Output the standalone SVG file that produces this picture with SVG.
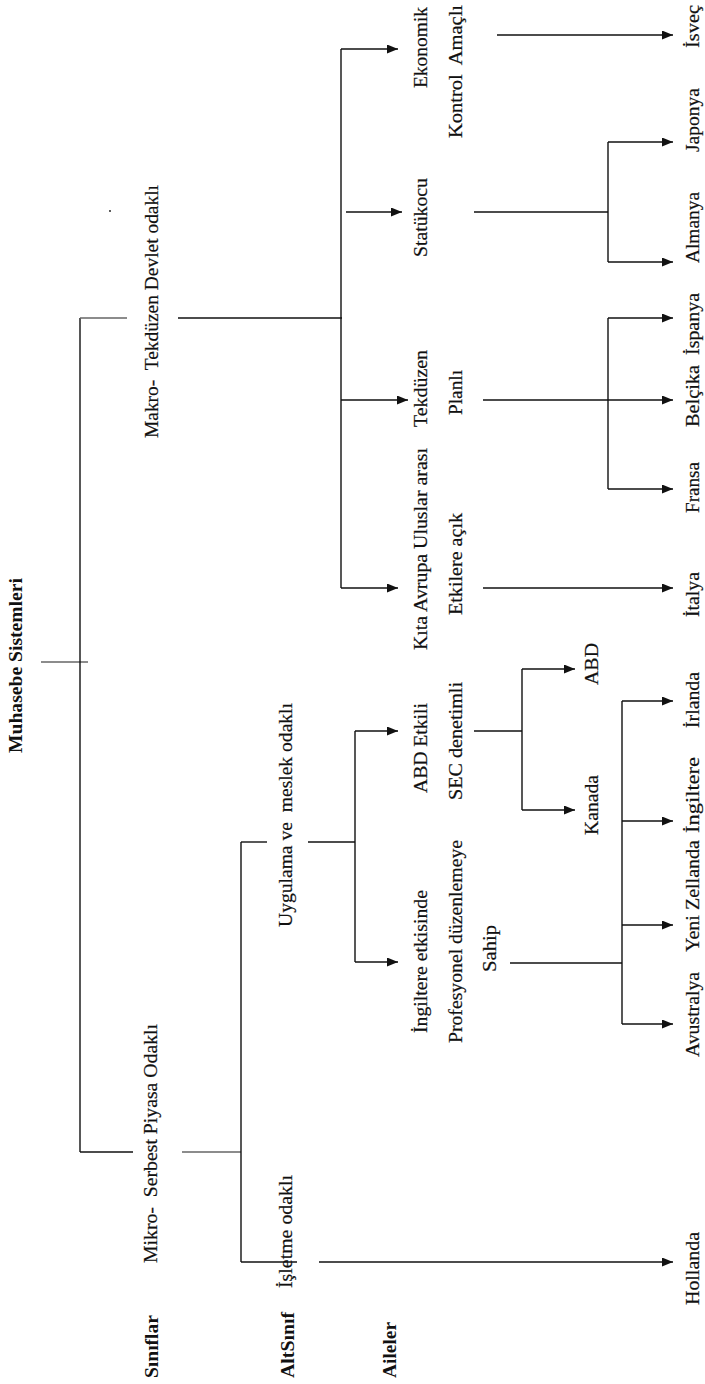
<svg xmlns="http://www.w3.org/2000/svg" width="705" height="1384" viewBox="0 0 705 1384">
<defs>
<style>
.t{font-family:"Liberation Serif","Times New Roman",serif;font-size:18px;fill:#111;stroke:#111;stroke-width:0.2}
.b{font-weight:bold;stroke-width:0}
.c{font-size:19px}
.l{stroke:#111;stroke-width:1.4;fill:none}
.g{stroke:#666;stroke-width:1.4;fill:none}
.a{stroke:#111;stroke-width:1.4;fill:none;marker-end:url(#ah)}
</style>
<marker id="ah" markerUnits="userSpaceOnUse" markerWidth="12" markerHeight="10" refX="11" refY="4.5" orient="auto">
<path d="M0,0 L11,4.5 L0,9 z" fill="#111"/>
</marker>
</defs>
<rect width="705" height="1384" fill="#fff"/>

<g id="connectors">
<line class="g" x1="41" y1="662" x2="88" y2="662"/>
<line class="l" x1="80" y1="318" x2="80" y2="1152"/>
<line class="g" x1="80" y1="318" x2="127" y2="318"/>
<line class="l" x1="178" y1="318" x2="342" y2="318"/>
<line class="l" x1="341" y1="49" x2="341" y2="588"/>
<polyline class="a" points="341,49 398,49"/>
<polyline class="a" points="346,212 402,212"/>
<polyline class="a" points="341,400 408,400"/>
<polyline class="a" points="341,588 398,588"/>
<polyline class="a" points="497,35 673,35"/>
<line class="l" x1="474" y1="212" x2="608" y2="212"/>
<line class="l" x1="608" y1="142" x2="608" y2="262"/>
<polyline class="a" points="608,142 673,142"/>
<polyline class="a" points="608,262 673,262"/>
<line class="l" x1="483" y1="400" x2="608" y2="400"/>
<line class="l" x1="608" y1="318" x2="608" y2="489"/>
<polyline class="a" points="608,318 673,318"/>
<polyline class="a" points="608,400 673,400"/>
<polyline class="a" points="608,489 673,489"/>
<polyline class="a" points="483,588 673,588"/>
<line class="l" x1="80" y1="1152" x2="133" y2="1152"/>
<line class="g" x1="182" y1="1152" x2="241" y2="1152"/>
<line class="l" x1="241" y1="842" x2="241" y2="1262"/>
<line class="l" x1="241" y1="842" x2="267" y2="842"/>
<line class="l" x1="308" y1="842" x2="355" y2="842"/>
<line class="l" x1="355" y1="731" x2="355" y2="962"/>
<polyline class="a" points="355,731 398,731"/>
<polyline class="a" points="355,962 398,962"/>
<line class="l" x1="474" y1="731" x2="522" y2="731"/>
<line class="l" x1="522" y1="669" x2="522" y2="810"/>
<polyline class="a" points="522,669 575,669"/>
<polyline class="a" points="522,810 575,810"/>
<line class="l" x1="510" y1="963" x2="622" y2="963"/>
<line class="l" x1="622" y1="701" x2="622" y2="1024"/>
<polyline class="a" points="622,701 673,701"/>
<polyline class="a" points="622,821 673,821"/>
<polyline class="a" points="622,925 673,925"/>
<polyline class="a" points="622,1024 673,1024"/>
<line class="l" x1="241" y1="1262" x2="297" y2="1262"/>
<polyline class="a" points="319,1262 673,1262"/>
<circle cx="110" cy="211" r="0.9" fill="#111"/>
</g>

<g id="n-root"><text class="t b" transform="translate(22,753) rotate(-90)" textLength="175" lengthAdjust="spacingAndGlyphs">Muhasebe Sistemleri</text></g>
<g id="n-siniflar"><text class="t b" transform="translate(158,1378) rotate(-90)" textLength="63" lengthAdjust="spacingAndGlyphs">Sınıflar</text></g>
<g id="n-altsinif"><text class="t b" transform="translate(294,1378) rotate(-90)" textLength="66" lengthAdjust="spacingAndGlyphs">AltSınıf</text></g>
<g id="n-aileler"><text class="t b" transform="translate(396,1378) rotate(-90)" textLength="56" lengthAdjust="spacingAndGlyphs">Aileler</text></g>

<g id="n-makro"><text class="t" transform="translate(158,438) rotate(-90)" textLength="253" lengthAdjust="spacingAndGlyphs" xml:space="preserve">Makro-  Tekdüzen Devlet odaklı</text></g>
<g id="n-mikro"><text class="t" transform="translate(157,1263) rotate(-90)" textLength="239" lengthAdjust="spacingAndGlyphs" xml:space="preserve">Mikro-  Serbest Piyasa Odaklı</text></g>

<g id="n-uygulama"><text class="t" transform="translate(292,927) rotate(-90)" textLength="224" lengthAdjust="spacingAndGlyphs" xml:space="preserve">Uygulama ve  meslek odaklı</text></g>
<g id="n-isletme"><text class="t" transform="translate(292,1288) rotate(-90)" textLength="113" lengthAdjust="spacingAndGlyphs">İşletme odaklı</text></g>

<g id="n-ekonomik">
<text class="t" transform="translate(427,88) rotate(-90)" textLength="81" lengthAdjust="spacingAndGlyphs">Ekonomik</text>
<text class="t" transform="translate(462,138) rotate(-90)" textLength="133" lengthAdjust="spacingAndGlyphs" xml:space="preserve">Kontrol  Amaçlı</text>
</g>
<g id="n-statukocu"><text class="t" transform="translate(427,257) rotate(-90)" textLength="79" lengthAdjust="spacingAndGlyphs">Statükocu</text></g>
<g id="n-tekduzen">
<text class="t" transform="translate(427,427) rotate(-90)" textLength="77" lengthAdjust="spacingAndGlyphs">Tekdüzen</text>
<text class="t" transform="translate(462,415) rotate(-90)" textLength="45" lengthAdjust="spacingAndGlyphs">Planlı</text>
</g>
<g id="n-kita">
<text class="t" transform="translate(427,650) rotate(-90)" textLength="202" lengthAdjust="spacingAndGlyphs">Kıta Avrupa Uluslar arası</text>
<text class="t" transform="translate(462,615) rotate(-90)" textLength="102" lengthAdjust="spacingAndGlyphs">Etkilere açık</text>
</g>
<g id="n-abdetkili">
<text class="t" transform="translate(427,793) rotate(-90)" textLength="90" lengthAdjust="spacingAndGlyphs">ABD Etkili</text>
<text class="t" transform="translate(462,800) rotate(-90)" textLength="118" lengthAdjust="spacingAndGlyphs">SEC denetimli</text>
</g>
<g id="n-ingiltereetki">
<text class="t" transform="translate(427,1033) rotate(-90)" textLength="143" lengthAdjust="spacingAndGlyphs">İngiltere etkisinde</text>
<text class="t" transform="translate(462,1043) rotate(-90)" textLength="203" lengthAdjust="spacingAndGlyphs">Profesyonel düzenlemeye</text>
<text class="t" transform="translate(496,972) rotate(-90)" textLength="47" lengthAdjust="spacingAndGlyphs">Sahip</text>
</g>

<g id="n-abd"><text class="t" transform="translate(598,685) rotate(-90)" textLength="42" lengthAdjust="spacingAndGlyphs">ABD</text></g>
<g id="n-kanada"><text class="t" transform="translate(598,835) rotate(-90)" textLength="60" lengthAdjust="spacingAndGlyphs">Kanada</text></g>

<g id="n-isvec"><text class="t c" transform="translate(699,48) rotate(-90)" textLength="43" lengthAdjust="spacingAndGlyphs">İsveç</text></g>
<g id="n-japonya"><text class="t c" transform="translate(699,152) rotate(-90)" textLength="64" lengthAdjust="spacingAndGlyphs">Japonya</text></g>
<g id="n-almanya"><text class="t c" transform="translate(699,263) rotate(-90)" textLength="71" lengthAdjust="spacingAndGlyphs">Almanya</text></g>
<g id="n-ispanya"><text class="t c" transform="translate(699,355) rotate(-90)" textLength="62" lengthAdjust="spacingAndGlyphs">İspanya</text></g>
<g id="n-belcika"><text class="t c" transform="translate(699,427) rotate(-90)" textLength="62" lengthAdjust="spacingAndGlyphs">Belçika</text></g>
<g id="n-fransa"><text class="t c" transform="translate(699,513) rotate(-90)" textLength="51" lengthAdjust="spacingAndGlyphs">Fransa</text></g>
<g id="n-italya"><text class="t c" transform="translate(699,617) rotate(-90)" textLength="45" lengthAdjust="spacingAndGlyphs">İtalya</text></g>
<g id="n-irlanda"><text class="t c" transform="translate(699,728) rotate(-90)" textLength="56" lengthAdjust="spacingAndGlyphs">İrlanda</text></g>
<g id="n-ingiltere"><text class="t c" transform="translate(699,833) rotate(-90)" textLength="76" lengthAdjust="spacingAndGlyphs">İngiltere</text></g>
<g id="n-yenizellanda"><text class="t c" transform="translate(699,952) rotate(-90)" textLength="112" lengthAdjust="spacingAndGlyphs">Yeni Zellanda</text></g>
<g id="n-avustralya"><text class="t c" transform="translate(699,1057) rotate(-90)" textLength="85" lengthAdjust="spacingAndGlyphs">Avustralya</text></g>
<g id="n-hollanda"><text class="t c" transform="translate(699,1305) rotate(-90)" textLength="73" lengthAdjust="spacingAndGlyphs">Hollanda</text></g>
</svg>
